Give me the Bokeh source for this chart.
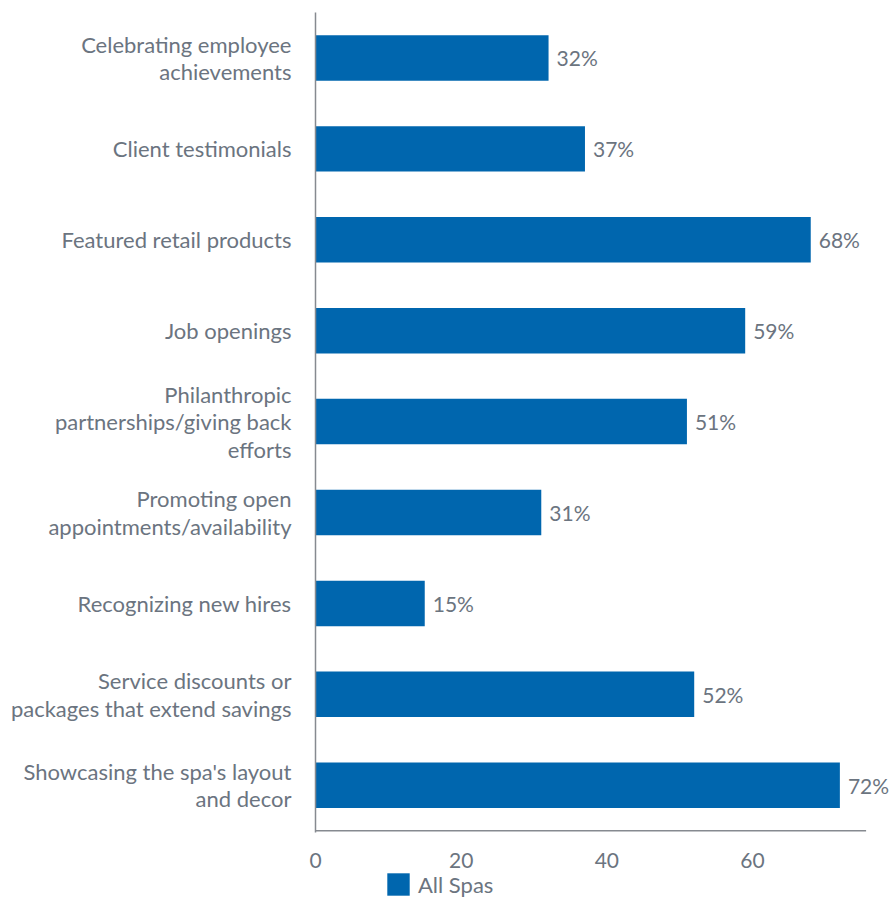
from bokeh.plotting import figure
from bokeh.layouts import column
from bokeh.models import ColumnDataSource, Range1d, LabelSet, Legend, LegendItem, FixedTicker
from bokeh.core.properties import value
from bokeh.embed import file_html
from bokeh.resources import INLINE

categories = [
    "Celebrating employee\nachievements",
    "Client testimonials",
    "Featured retail products",
    "Job openings",
    "Philanthropic\npartnerships/giving back\nefforts",
    "Promoting open\nappointments/availability",
    "Recognizing new hires",
    "Service discounts or\npackages that extend savings",
    "Showcasing the spa's layout\nand decor",
]
values = [32, 37, 68, 59, 51, 31, 15, 52, 72]
x_ticks = [0, 20, 40, 60]
series_name = "All Spas"
axis_end = 75.6

BAR = "#0066ae"
TXT = "#6b7480"
AX = "#868a90"
FONT = "Lato"

n = len(categories)
pos = [n - i for i in range(n)]
src = ColumnDataSource(dict(y=pos, val=values, lab=[f"{v}%" for v in values]))

p = figure(width=894, height=870, output_backend="svg", toolbar_location=None,
           y_range=Range1d(0.48, n + 0.5), x_range=Range1d(0, 79.5),
           frame_width=579, frame_height=820,
           min_border_left=315, min_border_top=12, min_border_right=0, min_border_bottom=0)
p.outline_line_color = None
p.xgrid.grid_line_color = None
p.ygrid.grid_line_color = None

r = p.hbar(y="y", right="val", left=0, height=0.5, source=src, color=BAR, line_color=None)
p.segment(x0=[0], x1=[axis_end], y0=[0.5], y1=[0.5], line_color=AX, line_width=1.5)

labels = LabelSet(x="val", y="y", text="lab", source=src, x_offset=8, text_baseline="middle",
                  text_font=value(FONT), text_font_size="21px", text_color=TXT)
p.add_layout(labels)

p.xaxis.ticker = FixedTicker(ticks=x_ticks)
p.yaxis.ticker = FixedTicker(ticks=pos)
p.yaxis.major_label_overrides = {pp: c for pp, c in zip(pos, categories)}
for ax in (p.xaxis[0], p.yaxis[0]):
    ax.major_tick_line_color = None
    ax.minor_tick_line_color = None
    ax.major_label_text_font = FONT
    ax.major_label_text_color = TXT
p.xaxis.axis_line_color = None
p.yaxis.axis_line_color = AX
p.yaxis.axis_line_width = 1.5
p.xaxis.major_label_text_font_size = "21px"
p.yaxis.major_label_text_font_size = "22px"
p.yaxis.major_label_text_line_height = 1.02
p.xaxis.major_label_standoff = 14
p.yaxis.major_label_standoff = 18
p.yaxis.major_label_text_align = "right"

# legend strip below the chart (proxy renderer lies outside the visible range)
lg_h = 52
pl = figure(width=894, height=lg_h, output_backend="svg", toolbar_location=None,
            x_range=Range1d(0, 1), y_range=Range1d(0, 1),
            x_axis_location=None, y_axis_location=None,
            min_border_left=0, min_border_right=0, min_border_top=0, min_border_bottom=0)
pl.outline_line_color = None
pl.xgrid.grid_line_color = None
pl.ygrid.grid_line_color = None
proxy = ColumnDataSource(dict(y=[-5], right=[-5], left=[-6]))
rl = pl.hbar(y="y", right="right", left="left", height=0.5, source=proxy, color=BAR, line_color=None)
legend = Legend(items=[LegendItem(label=series_name, renderers=[rl])], orientation="horizontal",
                location=(69, lg_h - 28), label_text_font=FONT, label_text_font_size="22px",
                label_text_color=TXT, glyph_width=28, glyph_height=28, border_line_color=None,
                background_fill_alpha=0, padding=0, margin=0, spacing=6, label_standoff=6,
                label_height=22)
pl.add_layout(legend)

open("out.html", "w").write(file_html(column(p, pl, spacing=0), INLINE))
